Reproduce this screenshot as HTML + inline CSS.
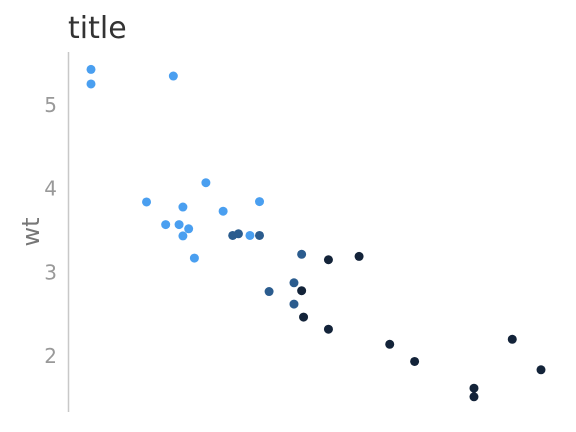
<!DOCTYPE html>
<html><head><meta charset="utf-8"><style>
body{margin:0;background:#fff;}
svg{display:block;font-family:"DejaVu Sans","Liberation Sans",sans-serif;}
</style></head><body>
<svg id="chart" width="576" height="432">
<text x="68" y="38" font-size="30" fill="#333">title</text>
<line x1="68.5" y1="52" x2="68.5" y2="412" stroke="#c8c8c8" stroke-width="1.5"/>
<text transform="translate(39,232) rotate(-90)" text-anchor="middle" font-size="24" fill="#777">wt</text>
<g id="ticks"></g><g id="pts"></g>
</svg>
<script>
const mpg=[21.0,21.0,22.8,21.4,18.7,18.1,14.3,24.4,22.8,19.2,17.8,16.4,17.3,15.2,10.4,10.4,14.7,32.4,30.4,33.9,21.5,15.5,15.2,13.3,19.2,27.3,26.0,30.4,15.8,19.7,15.0,21.4];
const wt=[2.620,2.875,2.320,3.215,3.440,3.460,3.570,3.190,3.150,3.440,3.440,4.070,3.730,3.780,5.250,5.424,5.345,2.200,1.615,1.835,2.465,3.520,3.435,3.840,3.845,1.935,2.140,1.513,3.170,2.770,3.570,2.780];
const cyl=[6,6,4,6,8,6,8,4,4,6,6,8,8,8,8,8,8,4,4,4,4,8,8,8,8,4,4,4,8,6,8,4];
const yTicks=[2,3,4,5];
const xs=v=>91+(v-10.4)*(450/23.5);
const ys=v=>356-(v-2)*83.7;
const col={4:"#132339",6:"#2b5c8e",8:"#4a9ff0"};
const NS="http://www.w3.org/2000/svg";
const tg=document.getElementById('ticks');
yTicks.forEach(t=>{
 const e=document.createElementNS(NS,'text');
 e.setAttribute('x',57);e.setAttribute('y',ys(t)+7);e.setAttribute('text-anchor','end');
 e.setAttribute('font-size','20');e.setAttribute('fill','#999');e.textContent=t;
 
 
 tg.appendChild(e);
});
const pg=document.getElementById('pts');
mpg.forEach((m,i)=>{
 const c=document.createElementNS(NS,'circle');
 c.setAttribute('cx',xs(m));c.setAttribute('cy',ys(wt[i]));c.setAttribute('r',4.5);
 c.setAttribute('fill',col[cyl[i]]);
 
 
 pg.appendChild(c);
});
</script>
</body></html>
